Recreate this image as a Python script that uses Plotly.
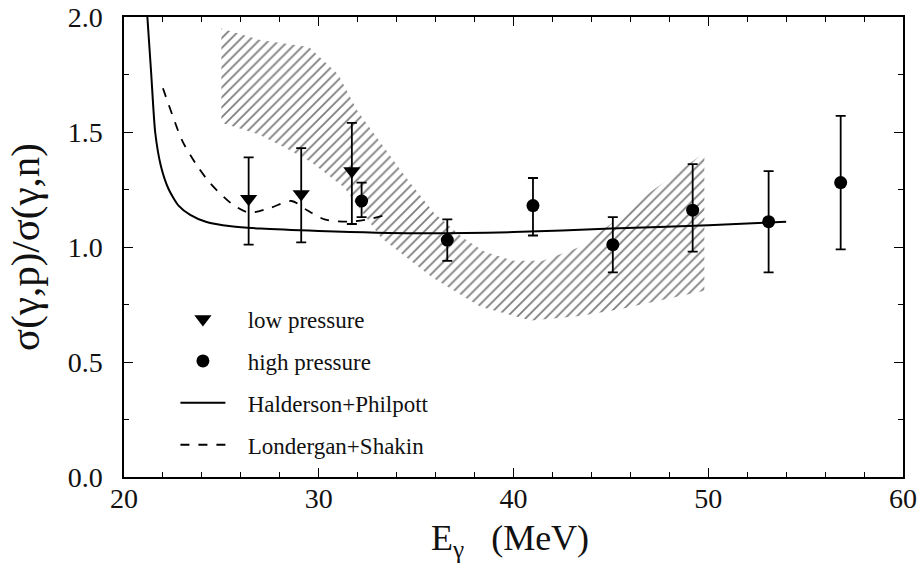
import plotly.graph_objects as go

# ---- data ----
low_E = [26.4, 29.1, 31.7]
low_R = [1.21, 1.23, 1.33]
low_up = [0.18, 0.20, 0.21]
low_dn = [0.20, 0.21, 0.23]

high_E = [32.2, 36.6, 41.0, 45.1, 49.2, 53.1, 56.8]
high_R = [1.20, 1.03, 1.18, 1.01, 1.16, 1.11, 1.28]
high_up = [0.08, 0.09, 0.12, 0.12, 0.20, 0.22, 0.29]
high_dn = [0.07, 0.09, 0.13, 0.12, 0.18, 0.22, 0.29]

hp_E = [21.2, 21.4, 21.6, 21.9, 22.3, 22.8, 23.4, 24.2, 25.5, 27.0, 30.0, 35.0, 40.0, 45.0, 50.0, 54.0]
hp_R = [2.00, 1.75, 1.50, 1.35, 1.25, 1.18, 1.14, 1.11, 1.09, 1.08, 1.07, 1.06, 1.065, 1.08, 1.095, 1.11]

ls_E = [22.0, 22.5, 23.0, 23.7, 24.4, 25.5, 26.4, 27.5, 28.6, 29.4, 30.3, 31.5, 32.5, 33.5]
ls_R = [1.69, 1.57, 1.46, 1.36, 1.28, 1.19, 1.15, 1.17, 1.20, 1.16, 1.12, 1.11, 1.12, 1.14]

band_up_E = [25.0, 27.0, 29.5, 31.0, 32.0, 33.2, 34.5, 35.9, 37.4, 38.5, 40.0, 41.5, 43.4, 45.0, 46.9, 48.5, 49.8]
band_up_R = [1.95, 1.90, 1.87, 1.75, 1.59, 1.45, 1.30, 1.15, 1.04, 0.98, 0.94, 0.94, 1.00, 1.10, 1.23, 1.33, 1.41]
band_lo_E = [25.0, 26.9, 28.3, 29.6, 31.3, 33.2, 35.8, 38.3, 40.9, 43.4, 45.5, 47.7, 49.8]
band_lo_R = [1.54, 1.49, 1.43, 1.37, 1.26, 1.04, 0.87, 0.74, 0.68, 0.70, 0.73, 0.77, 0.81]

x_ticks = [20, 30, 40, 50, 60]
y_ticks = [0.0, 0.5, 1.0, 1.5, 2.0]

legend_names = ["low pressure", "high pressure", "Halderson+Philpott", "Londergan+Shakin"]
x_title = "E<sub>γ</sub>   (MeV)"
y_title = "σ(γ,p)/σ(γ,n)"

font_family = "Liberation Serif"
ink = "#111"
pad = "\u00a0\u00a0\u00a0"

fig = go.Figure()

# hatched band
fig.add_trace(go.Scatter(
    x=band_up_E + band_lo_E[::-1],
    y=band_up_R + band_lo_R[::-1],
    fill="toself", mode="lines", line=dict(width=0, color="rgba(0,0,0,0)"),
    fillcolor="rgba(255,255,255,0)",
    fillpattern=dict(shape="/", fgcolor="#000000", bgcolor="rgba(255,255,255,0)",
                     size=7, solidity=0.26),
    showlegend=False, hoverinfo="skip"))

fig.add_trace(go.Scatter(
    x=low_E, y=low_R, mode="markers", name=pad + legend_names[0],
    marker=dict(symbol="triangle-down", size=15, color="black"),
    error_y=dict(type="data", symmetric=False, array=low_up, arrayminus=low_dn,
                 color="black", thickness=1.8, width=5),
    legendgroup="a"))

fig.add_trace(go.Scatter(
    x=high_E, y=high_R, mode="markers", name=pad + legend_names[1],
    marker=dict(symbol="circle", size=13, color="black"),
    error_y=dict(type="data", symmetric=False, array=high_up, arrayminus=high_dn,
                 color="black", thickness=1.8, width=5),
    legendgroup="b"))

fig.add_trace(go.Scatter(
    x=hp_E, y=hp_R, mode="lines", name=pad + legend_names[2],
    line=dict(color="black", width=2, shape="spline", smoothing=0.6),
    legendgroup="c"))

fig.add_trace(go.Scatter(
    x=ls_E, y=ls_R, mode="lines", name=pad + legend_names[3],
    line=dict(color="black", width=1.8, dash="dash", shape="spline", smoothing=0.8),
    legendgroup="d"))

# invisible trace to anchor the mirrored tick axes
fig.add_trace(go.Scatter(x=[None], y=[None], xaxis="x2", yaxis="y2",
                         showlegend=False, hoverinfo="skip"))

tick_common = dict(ticks="inside", ticklen=9, tickwidth=1.3, tickcolor="black",
                   showgrid=False, zeroline=False, automargin=False)

fig.update_layout(
    xaxis=dict(range=[20, 60], tickvals=x_ticks, showline=True, linecolor="black",
               linewidth=1.5, mirror=True,
               minor=dict(dtick=2, ticks="inside", ticklen=5, tickcolor="black", tickwidth=1),
               tickfont=dict(family=font_family, size=28, color=ink),
               ticklabelstandoff=-4,
               **tick_common),
    yaxis=dict(range=[0, 2.0], tickvals=y_ticks, ticktext=[f"{v:.1f}" for v in y_ticks],
               showline=True, linecolor="black", linewidth=1.5, mirror=True,
               minor=dict(dtick=0.25, ticks="inside", ticklen=5, tickcolor="black", tickwidth=1),
               tickfont=dict(family=font_family, size=28, color=ink),
               ticklabelstandoff=14,
               title=dict(text=y_title,
                          font=dict(family=font_family, size=41, color=ink)),
               **tick_common),
    xaxis2=dict(range=[20, 60], tickvals=x_ticks, overlaying="x", side="top", anchor="y",
                showticklabels=False,
                minor=dict(dtick=2, ticks="inside", ticklen=5, tickcolor="black", tickwidth=1),
                **tick_common),
    yaxis2=dict(range=[0, 2.0], tickvals=y_ticks, overlaying="y", side="right", anchor="x",
                showticklabels=False,
                minor=dict(dtick=0.25, ticks="inside", ticklen=5, tickcolor="black", tickwidth=1),
                **tick_common),
    annotations=[dict(text=x_title, xref="paper", yref="paper", x=0.5 - 0.004, y=-0.139,
                      xanchor="center", yanchor="middle", showarrow=False,
                      font=dict(family=font_family, size=36, color=ink))],
    width=924, height=566,
    margin=dict(l=124, r=21, t=17, b=89),
    plot_bgcolor="white", paper_bgcolor="white",
    legend=dict(x=0.066, y=0.39, xanchor="left", yanchor="top",
                bgcolor="rgba(0,0,0,0)", font=dict(family=font_family, size=23, color=ink),
                tracegroupgap=9, itemwidth=45),
)

fig.write_html("out.html")
